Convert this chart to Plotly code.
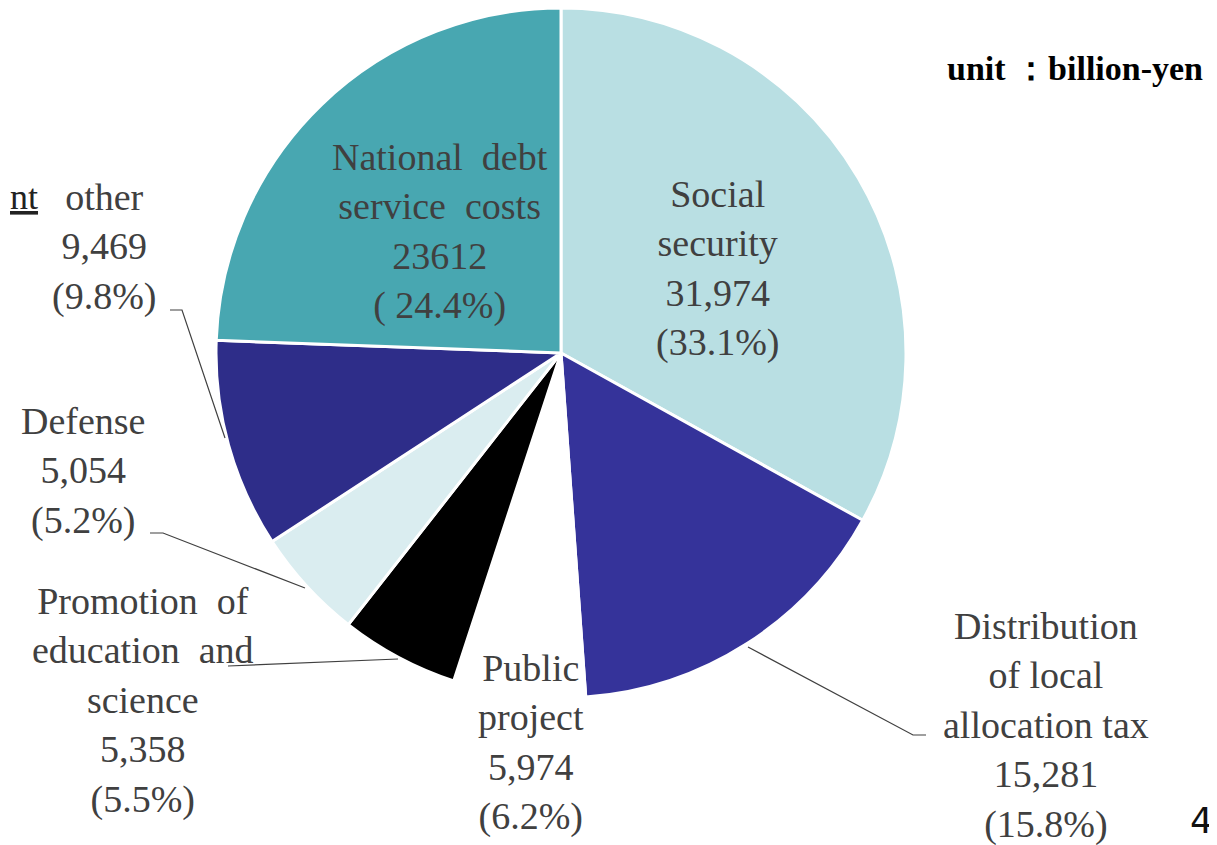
import plotly.graph_objects as go

W, H = 1217, 845
OFF = 8  # отступ body у страницы: всё смещается на 8 px

# Данные (млрд иен), по часовой стрелке от 12 часов
categories = ["Social security", "Distribution of local allocation tax", "Public project",
              "Promotion of education and science", "Defense", "other",
              "National debt service costs"]
values = [31974, 15281, 5974, 5358, 5054, 9469, 23612]
value_text = ["31,974", "15,281", "5,974", "5,358", "5,054", "9,469", "23612"]
pct_text = ["(33.1%)", "(15.8%)", "(6.2%)", "(5.5%)", "(5.2%)", "(9.8%)", "( 24.4%)"]
label_names = ["Social<br>security", "Distribution<br>of local<br>allocation tax",
               "Public<br>project", "Promotion  of<br>education  and<br>science",
               "Defense", "other", "National  debt<br>service  costs"]
colors = ["#B9DFE3", "#35339A", "#FFFFFF", "#000000", "#DAEDF0", "#2E2D89", "#48A7B1"]

# центры подписей в пикселях экрана
label_pos = [(717, 268), (1046, 725), (531, 742), (143, 700),
             (83, 471), (104, 247), (440, 231)]

# выноски (пиксели экрана)
leaders = [
    [(170, 310), (182, 310), (225, 438)],
    [(150, 533), (163, 533), (305, 588)],
    [(228, 666), (398, 659)],
    [(748, 647), (913, 735), (926, 735)],
]

TEXT = "#404040"
SERIF = "Liberation Serif, Times New Roman, serif"


def px(x, y):
    return (x - OFF) / W, 1 - (y - OFF) / H


cx, cy, r = 561 - OFF, 353 - OFF, 345

fig = go.Figure(go.Pie(
    labels=categories, values=values, sort=False, direction="clockwise", rotation=0,
    marker=dict(colors=colors, line=dict(color="white", width=3)),
    textinfo="none", hoverinfo="label+value+percent",
    domain=dict(x=[(cx - r) / W, (cx + r) / W],
                y=[max(0, 1 - (cy + r) / H), min(1, 1 - (cy - r) / H)]),
    showlegend=False,
))

for name, vt, pt, (lx, ly) in zip(label_names, value_text, pct_text, label_pos):
    x, y = px(lx, ly)
    fig.add_annotation(text=f"{name}<br>{vt}<br>{pt}", x=x, y=y, xref="paper", yref="paper",
                       xanchor="center", yanchor="middle", showarrow=False, align="center",
                       font=dict(family=SERIF, size=38, color=TEXT))

for pts in leaders:
    path = "M " + " L ".join(f"{px(a, b)[0]},{px(a, b)[1]}" for a, b in pts)
    fig.add_shape(type="path", path=path, xref="paper", yref="paper",
                  line=dict(color=TEXT, width=1.2))

x, y = px(1205, 68)
fig.add_annotation(text="<b>unit ：billion-yen</b>", x=x, y=y, xref="paper", yref="paper",
                   xanchor="right", yanchor="middle", showarrow=False,
                   font=dict(family=SERIF, size=34, color="#000000"))

# обрезанные элементы слайда
x, y = px(8, 197)
fig.add_annotation(text="<u>nt</u>", x=x, y=y, xref="paper", yref="paper",
                   xanchor="left", yanchor="middle", showarrow=False,
                   font=dict(family=SERIF, size=36, color="#222222"))
x, y = px(1215, 843)
fig.add_annotation(text="4", x=x, y=y, xref="paper", yref="paper",
                   xanchor="right", yanchor="bottom", showarrow=False,
                   font=dict(family="DejaVu Sans", size=36, color="#111111"))

fig.update_layout(width=W, height=H, margin=dict(l=0, r=0, t=0, b=0),
                  paper_bgcolor="white", plot_bgcolor="white")

fig.write_html("out.html")
